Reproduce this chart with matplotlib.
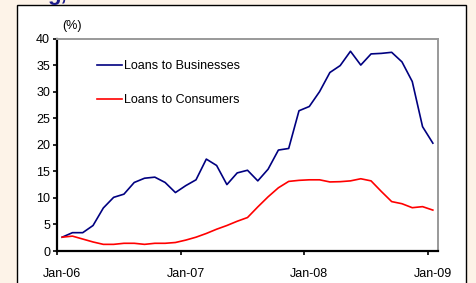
import matplotlib.pyplot as plt
from matplotlib.patches import Rectangle

# monthly, Jan-06 .. Jan-09, % y/y
businesses = [2.6, 3.45, 3.45, 4.8, 8.1, 10.1, 10.7, 12.9, 13.7, 13.9, 12.9, 11.0,
              12.3, 13.4, 17.3, 16.1, 12.5, 14.7, 15.2, 13.2, 15.4, 19.0, 19.3, 26.4,
              27.2, 30.0, 33.6, 34.9, 37.6, 35.0, 37.1, 37.2, 37.4, 35.6, 31.9, 23.4,
              20.3]
consumers = [2.6, 2.8, 2.25, 1.7, 1.25, 1.25, 1.45, 1.45, 1.25, 1.45, 1.45, 1.6,
             2.05, 2.6, 3.3, 4.1, 4.8, 5.6, 6.3, 8.3, 10.2, 11.9, 13.1, 13.3,
             13.4, 13.4, 13.0, 13.05, 13.2, 13.6, 13.2, 11.2, 9.3, 8.9, 8.15, 8.35,
             7.7]
tick_labels = ['Jan-06', 'Jan-07', 'Jan-08', 'Jan-09']

plt.rcParams['font.family'] = ['Liberation Sans', 'DejaVu Sans']

fig = plt.figure(figsize=(4.77, 2.83), dpi=100)
fig.patch.set_facecolor('#fdf3e8')

# white panel with black frame
W, H = 477, 283
fig.patches.append(Rectangle((17 / W, -0.05), (466 - 17) / W, 1.05 - 5.5 / H,
                             transform=fig.transFigure, facecolor='white',
                             edgecolor='black', linewidth=1.0, zorder=-1))
fig.text(47 / W, 0.999, 'g,', color='#1c1c8a', fontsize=16, fontweight='bold',
         va='baseline', ha='left')

ax = fig.add_axes([57 / W, 1 - 251 / H, (438 - 57) / W, (251 - 38.5) / H])
ax.set_facecolor('white')

x = [i + 0.5 for i in range(len(businesses))]
ax.plot(x, businesses, color='#000080', lw=1.2, label='Loans to Businesses')
ax.plot(x, consumers, color='#ff0000', lw=1.2, label='Loans to Consumers')

ax.set_xlim(0, 37)
ax.set_ylim(0, 40)
ax.set_yticks(range(0, 41, 5))
ax.set_xticks([0, 12, 24, 36])
ax.set_xticklabels([])
ax.set_xticks([0.5, 12.5, 24.5, 36.5], minor=True)
ax.set_xticklabels(tick_labels, minor=True)
ax.tick_params(axis='x', which='minor', length=0, pad=12, labelsize=9)
ax.tick_params(axis='x', which='major', length=3, width=1.2, direction='out')
ax.tick_params(axis='y', length=3, width=1.2, direction='out', labelsize=9, pad=2)

for s in ['left', 'bottom']:
    ax.spines[s].set_color('black')
    ax.spines[s].set_linewidth(1.6)
for s in ['top', 'right']:
    ax.spines[s].set_color('#999999')
    ax.spines[s].set_linewidth(1.4)

ax.text(0.5, 41.3, '(%)', fontsize=9, ha='left', va='bottom')

leg = ax.legend(loc='upper left', bbox_to_anchor=(0.075, 0.95), frameon=False,
                fontsize=9, handlelength=2.0, handletextpad=0.15, labelspacing=1.75)

fig.savefig('out.png', dpi=100, facecolor=fig.get_facecolor())
